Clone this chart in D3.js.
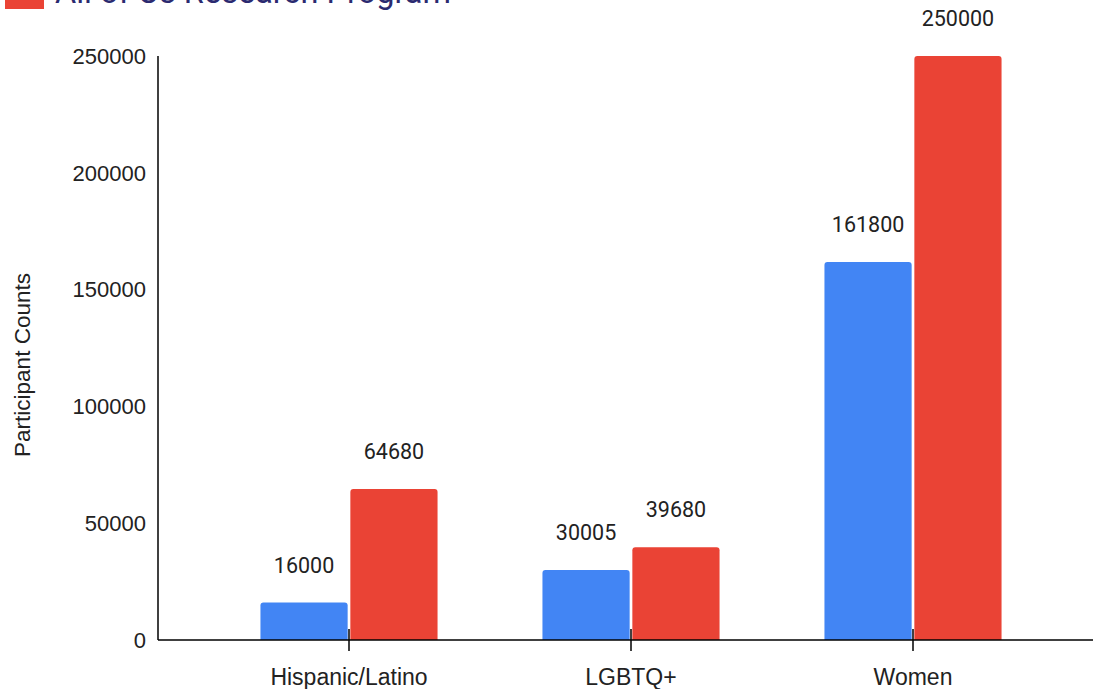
<!DOCTYPE html>
<html>
<head>
<meta charset="utf-8">
<script src="https://cdn.jsdelivr.net/npm/d3@7"></script>
<style>
  html, body { margin: 0; padding: 0; background: #fff; }
  svg { display: block; }
</style>
</head>
<body>
<svg id="chart" width="1093" height="689"></svg>
<script>
// Participant counts by group, for two programs
const categories = ["Hispanic/Latino", "LGBTQ+", "Women"];
const seriesNames = ["Comparison Program", "All of Us Research Program"];
const seriesA = [16000, 30005, 161800];
const seriesB = [64680, 39680, 250000];
const yTicks = [0, 50000, 100000, 150000, 200000, 250000];
const yTitle = "Participant Counts";
const colors = ["#4285f4", "#ea4335"];

const svg = d3.select("#chart");
const axisY0 = 640, axisYTop = 56, axisX = 158;

const x = d3.scaleBand().domain(categories).range([208, 1054])
  .paddingInner(0.372).paddingOuter(0.186);
const xSub = d3.scaleBand().domain([0, 1]).range([0, x.bandwidth()]).paddingInner(0.03);
const y = d3.scaleLinear().domain([0, 250000]).range([axisY0, axisYTop]);

// Bars with softly rounded top corners
function barPath(x0, w, yTop, yBase, r) {
  r = Math.min(r, (yBase - yTop), w / 2);
  return `M${x0},${yBase}V${yTop + r}Q${x0},${yTop} ${x0 + r},${yTop}` +
         `H${x0 + w - r}Q${x0 + w},${yTop} ${x0 + w},${yTop + r}V${yBase}Z`;
}

const rows = categories.map((c, i) => ({ cat: c, vals: [seriesA[i], seriesB[i]] }));

const groups = svg.append("g").selectAll("g").data(rows).join("g")
  .attr("transform", d => `translate(${x(d.cat)},0)`);

groups.selectAll("path").data(d => d.vals.map((v, k) => ({ v, k }))).join("path")
  .attr("d", d => barPath(xSub(d.k), xSub.bandwidth(), y(d.v), y(0), 3))
  .attr("fill", d => colors[d.k]);

// Value labels above bars
groups.selectAll("text.val").data(d => d.vals.map((v, k) => ({ v, k }))).join("text")
  .attr("class", "val")
  .attr("x", d => xSub(d.k) + xSub.bandwidth() / 2)
  .attr("y", d => y(d.v) - 30)
  .attr("text-anchor", "middle")
  .attr("font-family", "Roboto, sans-serif")
  .attr("font-size", 21.5)
  .attr("fill", "#222")
  .text(d => d.v);

// Y axis: plain line with labels, no tick marks
svg.append("line")
  .attr("x1", axisX).attr("x2", axisX)
  .attr("y1", y(250000)).attr("y2", y(0))
  .attr("stroke", "#000").attr("stroke-width", 1.5);

svg.append("g").selectAll("text").data(yTicks).join("text")
  .attr("x", 146)
  .attr("y", d => y(d))
  .attr("dy", "0.35em")
  .attr("text-anchor", "end")
  .attr("font-family", "'Liberation Sans', Arial, sans-serif")
  .attr("font-size", 22)
  .attr("fill", "#222")
  .text(d => d);

svg.append("text")
  .attr("transform", `translate(30,${(axisYTop + axisY0) / 2 + 17}) rotate(-90)`)
  .attr("text-anchor", "middle")
  .attr("font-family", "'Liberation Sans', Arial, sans-serif")
  .attr("font-size", 22.5)
  .attr("fill", "#222")
  .text(yTitle);

// X axis line, ticks and category labels
svg.append("line")
  .attr("x1", axisX).attr("x2", 1093)
  .attr("y1", axisY0).attr("y2", axisY0)
  .attr("stroke", "#000").attr("stroke-width", 1.5);

const xAxis = svg.append("g").selectAll("g").data(categories).join("g")
  .attr("transform", d => `translate(${x(d) + x.bandwidth() / 2},${axisY0})`);
xAxis.append("line").attr("y1", -11).attr("y2", 11)
  .attr("stroke", "#000").attr("stroke-width", 1.5);
xAxis.append("text")
  .attr("y", 45)
  .attr("text-anchor", "middle")
  .attr("font-family", "'Liberation Sans', Arial, sans-serif")
  .attr("font-size", 23)
  .attr("fill", "#222")
  .text(d => d);

// Legend entry (top edge)
const legend = svg.append("g");
legend.append("rect").attr("x", 5).attr("y", -20).attr("width", 39).attr("height", 29)
  .attr("fill", colors[1]);
legend.append("text")
  .attr("x", 55).attr("y", 3)
  .attr("font-family", "Roboto, sans-serif")
  .attr("font-size", 32.5)
  .attr("fill", "#2b2a70")
  .text(seriesNames[1]);
</script>
</body>
</html>
